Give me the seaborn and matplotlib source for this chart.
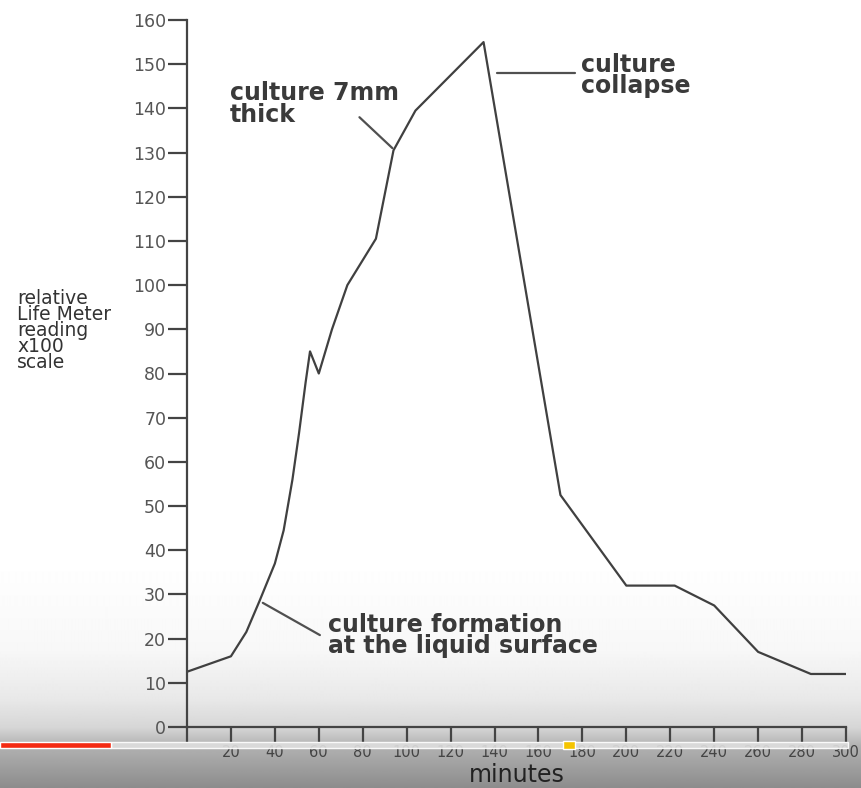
"""Life Meter reading of a culture over time (redrawn from a scanned figure)."""
import matplotlib

matplotlib.use("Agg")
import matplotlib.pyplot as plt
import numpy as np
import pandas as pd
import seaborn as sns
from matplotlib.patches import Rectangle

# values
minutes = [0, 20, 27, 33, 40, 44, 48, 51, 54, 56, 60, 66, 73, 86, 94, 104, 135,
           170, 200, 222, 240, 260, 284, 300]
reading = [12.5, 16, 21.5, 28.5, 37, 44.5, 56, 66.5, 78, 85, 80, 90, 100, 110.5,
           130.5, 139.5, 155, 52.5, 32, 32, 27.5, 17, 12, 12]

x_ticks = list(range(0, 301, 20))
x_tick_labels = [""] + [str(t) for t in x_ticks[1:]]
y_ticks = list(range(0, 161, 10))

y_label = "relative\nLife Meter\nreading\nx100\nscale"
x_label = "minutes"

# (text, leader start, leader end, text anchor)
notes = [
    ("culture 7mm\nthick", (78.5, 138), (93.5, 131), (19.5, 141)),
    ("culture\ncollapse", (176.5, 148), (141, 148), (179.5, 147.5)),
    ("culture formation\nat the liquid surface", (60.5, 20.8), (34.5, 28.1), (64, 20.7)),
]

INK = "#3a3a3a"

sns.set_style("ticks")
plt.rcParams["font.family"] = ["DejaVu Sans"]

W, H = 861, 788
fig = plt.figure(figsize=(W / 100, H / 100), dpi=100)
fig.patch.set_facecolor("white")

# grey fade at the bottom of the screenshot
bg = fig.add_axes([0, 0, 1, 1], zorder=-1)
rows = np.arange(H)
shade = np.interp(rows, [0, 560, 650, 700, 727, 745, 788], [1.0, 1.0, 0.97, 0.91, 0.84, 0.70, 0.55])
bg.imshow(np.tile(shade[:, None], (1, 4)), aspect="auto", cmap="gray", vmin=0, vmax=1,
          extent=[0, 1, 0, 1], interpolation="bilinear")
bg.axis("off")

ax = fig.add_axes([187 / W, 1 - 727 / H, (846 - 187) / W, (727 - 20) / H])
ax.patch.set_alpha(0)

df = pd.DataFrame({"minutes": minutes, "reading": reading})
sns.lineplot(data=df, x="minutes", y="reading", sort=False, color="#404040", linewidth=1.6, ax=ax)

ax.set_xlim(0, 300)
ax.set_ylim(0, 160)
ax.set_xticks(x_ticks)
ax.set_xticklabels(x_tick_labels)
ax.set_yticks(y_ticks)
ax.set_xlabel(x_label, fontsize=17, color="#222222", labelpad=2)
ax.set_ylabel("")
sns.despine(ax=ax)
for side in ("left", "bottom"):
    ax.spines[side].set_color("#444444")
    ax.spines[side].set_linewidth(1.6)
    ax.spines[side].set_clip_on(False)
ax.tick_params(axis="y", length=14, width=1.6, color="#444444", labelsize=12.5, labelcolor="#555555", pad=1)
ax.tick_params(axis="x", length=11, width=1.6, color="#444444", labelsize=10.5, labelcolor="#444444", pad=2)

for text, start, end, anchor in notes:
    ax.plot([start[0], end[0]], [start[1], end[1]], color="#505050", linewidth=1.6, clip_on=False)
    ax.text(anchor[0], anchor[1], text, ha="left", va="center", fontsize=17, fontweight="bold",
            color=INK, linespacing=0.85)

fig.text(17 / W, 1 - 330 / H, y_label, ha="left", va="center", fontsize=13.5, color="#333333",
         linespacing=0.8)

# video player progress bar that sits on top of the screenshot
fig.patches.append(Rectangle((111 / W, 1 - 748 / H), (848 - 111) / W, 6 / H, transform=fig.transFigure,
                             facecolor="#dedede", alpha=0.9, zorder=5))
fig.patches.append(Rectangle((0, 1 - 748 / H), 111 / W, 6 / H, transform=fig.transFigure,
                             facecolor="#f42a12", zorder=6))
fig.patches.append(Rectangle((563 / W, 1 - 749 / H), 12 / W, 8 / H, transform=fig.transFigure,
                             facecolor="#f5c400", zorder=6))

fig.savefig("out.png", dpi=100)
